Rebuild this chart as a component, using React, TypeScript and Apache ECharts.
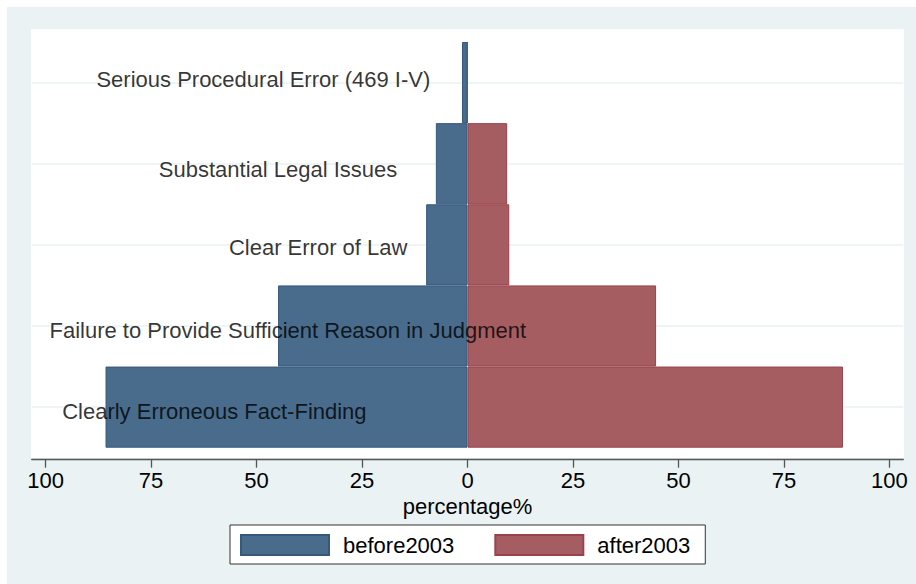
import React, { useEffect, useRef } from "react";
import * as echarts from "echarts";

// ---- data ----
const categories = [
  "Serious Procedural Error (469 I-V)",
  "Substantial Legal Issues",
  "Clear Error of Law",
  "Failure to Provide Sufficient Reason in Judgment",
  "Clearly Erroneous Fact-Finding",
];
const before2003 = [1.3, 7.5, 9.8, 44.9, 85.8];
const after2003 = [0, 9.4, 9.9, 44.7, 89.0];
const tickValues = [-100, -75, -50, -25, 0, 25, 50, 75, 100];
const seriesNames = ["before2003", "after2003"];
const axisTitle = "percentage%";

// ---- annotation placement (label anchors in data units, vertical nudges in px) ----
const labelAnchorX = [-48.4, -44.9, -35.4, -42.6, -60.0];
const labelNudgeY = [-2.6, 5.3, 2.6, 5, 3.9];

const FONT = "'Liberation Sans', Arial, Helvetica, sans-serif";
const BG = "#EAF2F3";

export default function App() {
  const ref = useRef<HTMLDivElement>(null);
  useEffect(() => {
    if (!ref.current) return;
    const chart = echarts.init(ref.current, undefined, { renderer: "svg" });
    const option: any = {
      animation: false,
      backgroundColor: "#ffffff",
      textStyle: { fontFamily: FONT },
      graphic: [
        {
          type: "rect",
          z: -2,
          silent: true,
          shape: { x: 7, y: 7, width: 909, height: 577 },
          style: { fill: BG },
        },
        {
          type: "rect",
          z: -1,
          silent: true,
          shape: { x: 31, y: 29, width: 873, height: 429 },
          style: { fill: "#ffffff" },
        },
      ],
      grid: { left: 31.7, right: 12.7, top: 42, bottom: 136.3 },
      xAxis: {
        type: "value",
        min: -103.3,
        max: 103.3,
        offset: 12,
        axisLine: { show: true, onZero: false, lineStyle: { color: "#555", width: 1.3 } },
        axisTick: {
          show: true,
          length: 8,
          customValues: tickValues,
          lineStyle: { color: "#555", width: 1.3 },
        },
        axisLabel: {
          customValues: tickValues,
          formatter: (v: number) => String(Math.abs(v)),
          fontSize: 22,
          lineHeight: 18,
          color: "#000",
          margin: 12,
          fontFamily: FONT,
        },
        splitLine: { show: false },
        name: axisTitle,
        nameLocation: "middle",
        nameGap: 38,
        nameMoveOverlap: false,
        nameTextStyle: { fontSize: 22, lineHeight: 18, color: "#000", fontFamily: FONT },
      },
      yAxis: {
        type: "category",
        data: categories,
        inverse: true,
        show: false,
      },
      legend: {
        data: seriesNames,
        left: 230,
        top: 525,
        orient: "horizontal",
        padding: [9, 15, 8, 10],
        itemWidth: 88,
        itemHeight: 20,
        itemGap: 40,
        backgroundColor: "#ffffff",
        borderColor: "#333",
        borderWidth: 1,
        borderRadius: 0,
        icon: "rect",
        selectedMode: false,
        textStyle: { fontSize: 22, color: "#000", fontFamily: FONT, padding: [0, 0, 0, 9] },
      },
      series: [
        {
          type: "scatter",
          name: "grid",
          z: 1,
          silent: true,
          symbolSize: 1,
          itemStyle: { color: "transparent" },
          data: categories.map((c) => [0, c]),
          markLine: {
            silent: true,
            z: 1,
            symbol: "none",
            label: { show: false },
            lineStyle: { color: BG, width: 1.5, type: "solid" },
            data: categories.map((c) => ({ yAxis: c })),
          },
        },
        {
          type: "bar",
          name: seriesNames[0],
          z: 2,
          data: before2003.map((v) => -v),
          barCategoryGap: "0%",
          barGap: "-100%",
          itemStyle: { color: "#496B8C", borderColor: "#35597C", borderWidth: 1 },
        },
        {
          type: "bar",
          name: seriesNames[1],
          z: 2,
          data: after2003,
          barCategoryGap: "0%",
          barGap: "-100%",
          itemStyle: { color: "#A55D62", borderColor: "#9A424B", borderWidth: 1 },
        },
        {
          type: "scatter",
          name: "labels",
          z: 5,
          silent: true,
          symbolSize: 1,
          itemStyle: { color: "transparent" },
          data: categories.map((c, i) => ({
            value: [labelAnchorX[i], c],
            label: { offset: [0, labelNudgeY[i]] },
          })),
          label: {
            show: true,
            position: "inside",
            formatter: (p: any) => categories[p.dataIndex],
            fontSize: 22,
            color: "#000",
            fontFamily: FONT,
          },
        },
      ],
    };
    chart.setOption(option);
    return () => chart.dispose();
  }, []);
  return (
    <div
      ref={ref}
      style={{ position: "fixed", left: 0, top: 0, width: 916, height: 584 }}
    />
  );
}
